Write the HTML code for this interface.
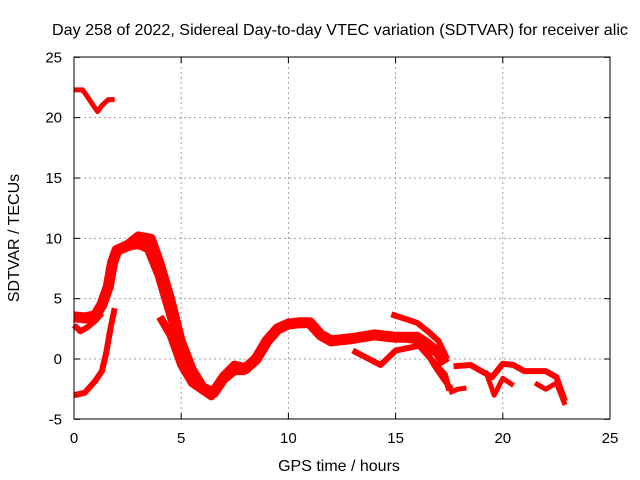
<!DOCTYPE html>
<html><head><meta charset="utf-8"><style>
body{margin:0;background:#fff;}
svg{display:block;font-family:"Liberation Sans",sans-serif;}
</style></head><body>
<svg id="c" width="640" height="480" viewBox="0 0 640 480">
<rect width="640" height="480" fill="#fff"/>
<text x="52" y="35" font-size="16" textLength="576" lengthAdjust="spacingAndGlyphs" fill="#000">Day 258 of 2022, Sidereal Day-to-day VTEC variation (SDTVAR) for receiver alic</text>
<g id="grid"></g>
<g id="series"></g>
<rect x="74" y="57" width="536" height="362" fill="none" stroke="#000" stroke-width="1"/>
<g id="ticks"></g>
<text x="339" y="471" font-size="16" text-anchor="middle">GPS time / hours</text>
<text transform="translate(19,238) rotate(-90)" font-size="16" text-anchor="middle">SDTVAR / TECUs</text>
</svg>
<script>
const xTicks=[0,5,10,15,20,25];
const yTicks=[-5,0,5,10,15,20,25];
const sA_t=[0,0.4,0.6,0.9,1.1,1.3,1.6,1.9];
const sA_v=[22.3,22.3,21.8,21,20.5,21,21.5,21.5];
const sB_t=[0,0.5,1,1.3,1.6,1.8,2,2.5,3,3.5,4,4.5,5,5.5,6,6.5,7,7.5,8,8.5,9,9.5,10,10.5,11,11.5,12,13,14,15,16,16.5,17,17.3];
const sB_v=[3.5,3.4,3.6,4.5,6,8,9,9.4,9.6,9.2,7,4,1,-1,-2.4,-2.8,-1.5,-0.6,-0.8,0,1.5,2.5,2.9,3,3,2,1.5,1.7,2,1.8,1.8,1.2,0.5,-0.4];
const sC_t=[0,0.3,0.6,1,1.3];
const sC_v=[2.8,2.3,2.6,3.2,3.8];
const sD_t=[0,0.5,1,1.3,1.5,1.7,1.9];
const sD_v=[-3,-2.8,-1.8,-1,0.5,2.5,4.2];
const sE_t=[4,4.5,5,5.5,6,6.4,6.8,7.5,8];
const sE_v=[3.5,2,-0.5,-2,-2.6,-3.1,-2,-1,-1];
const sF_t=[2.5,3,3.6,4,4.5,5,5.5];
const sF_v=[9.5,10.2,10,8,5,1.5,-0.8];
const sG_t=[14.8,15.5,16,16.5,17,17.4];
const sG_v=[3.7,3.3,3,2.3,1.5,0];
const sH_t=[13,14.3,15,16.1,17.3,17.5];
const sH_v=[0.7,-0.5,0.7,1.1,-1.3,-2.6];
const sI_t=[15.5,16.2,16.8,17.3,17.6];
const sI_v=[1.6,1.4,-0.5,-1.8,-2.5];
const sJ_t=[17.5,17.9,18.3];
const sJ_v=[-2.8,-2.5,-2.4];
const sK_t=[17.7,18.5,19,19.5,20,20.5,21,22,22.5,22.9];
const sK_v=[-0.6,-0.5,-1,-1.5,-0.4,-0.5,-1,-1,-1.5,-3.5];
const sL_t=[19.2,19.6,20,20.5];
const sL_v=[-1,-3,-1.6,-2.2];
const sM_t=[21.5,22,22.5,22.9];
const sM_v=[-2,-2.5,-2,-3.8];
const seriesList=[[sA_t,sA_v,5],[sB_t,sB_v,11],[sC_t,sC_v,6],[sD_t,sD_v,6],[sE_t,sE_v,8],[sF_t,sF_v,9],[sG_t,sG_v,6],[sH_t,sH_v,6],[sI_t,sI_v,6],[sJ_t,sJ_v,5],[sK_t,sK_v,6],[sL_t,sL_v,5],[sM_t,sM_v,5]];
const NS="http://www.w3.org/2000/svg";
const X=t=>74+t*(536/25);
const Y=v=>359-v*(362/30);
const grid=document.getElementById('grid'),ticks=document.getElementById('ticks'),ser=document.getElementById('series');
function mk(tag,attrs,parent){const e=document.createElementNS(NS,tag);for(const k in attrs)e.setAttribute(k,attrs[k]);parent.appendChild(e);return e;}
xTicks.forEach(t=>{
  const x=X(t);
  if(t>0&&t<25){const g=mk('line',{x1:x,x2:x,y1:57,y2:419,stroke:'#a0a0a0','stroke-dasharray':'2,3'},grid);
  
  }
  mk('line',{x1:x,x2:x,y1:419,y2:413,stroke:'#000'},ticks);
  mk('line',{x1:x,x2:x,y1:57,y2:63,stroke:'#000'},ticks);
  const l=mk('text',{x:x,y:443,'font-size':15,'text-anchor':'middle'},ticks);l.textContent=t;
  
  
});
yTicks.forEach(v=>{
  const y=Y(v);
  if(v>-5&&v<25){const g=mk('line',{x1:74,x2:610,y1:y,y2:y,stroke:'#a0a0a0','stroke-dasharray':'2,3'},grid);
  
  }
  mk('line',{x1:74,x2:80,y1:y,y2:y,stroke:'#000'},ticks);
  mk('line',{x1:610,x2:604,y1:y,y2:y,stroke:'#000'},ticks);
  const l=mk('text',{x:62,y:y+5,'font-size':15,'text-anchor':'end'},ticks);l.textContent=v;
  
  
});
seriesList.forEach(s=>{
  const pts=s[0].map((t,i)=>X(t).toFixed(1)+','+Y(s[1][i]).toFixed(1)).join(' ');
  const p=mk('polyline',{points:pts,fill:'none',stroke:'#ff0000','stroke-width':s[2],'stroke-linejoin':'round'},ser);
  
  
});
</script>
</body></html>
